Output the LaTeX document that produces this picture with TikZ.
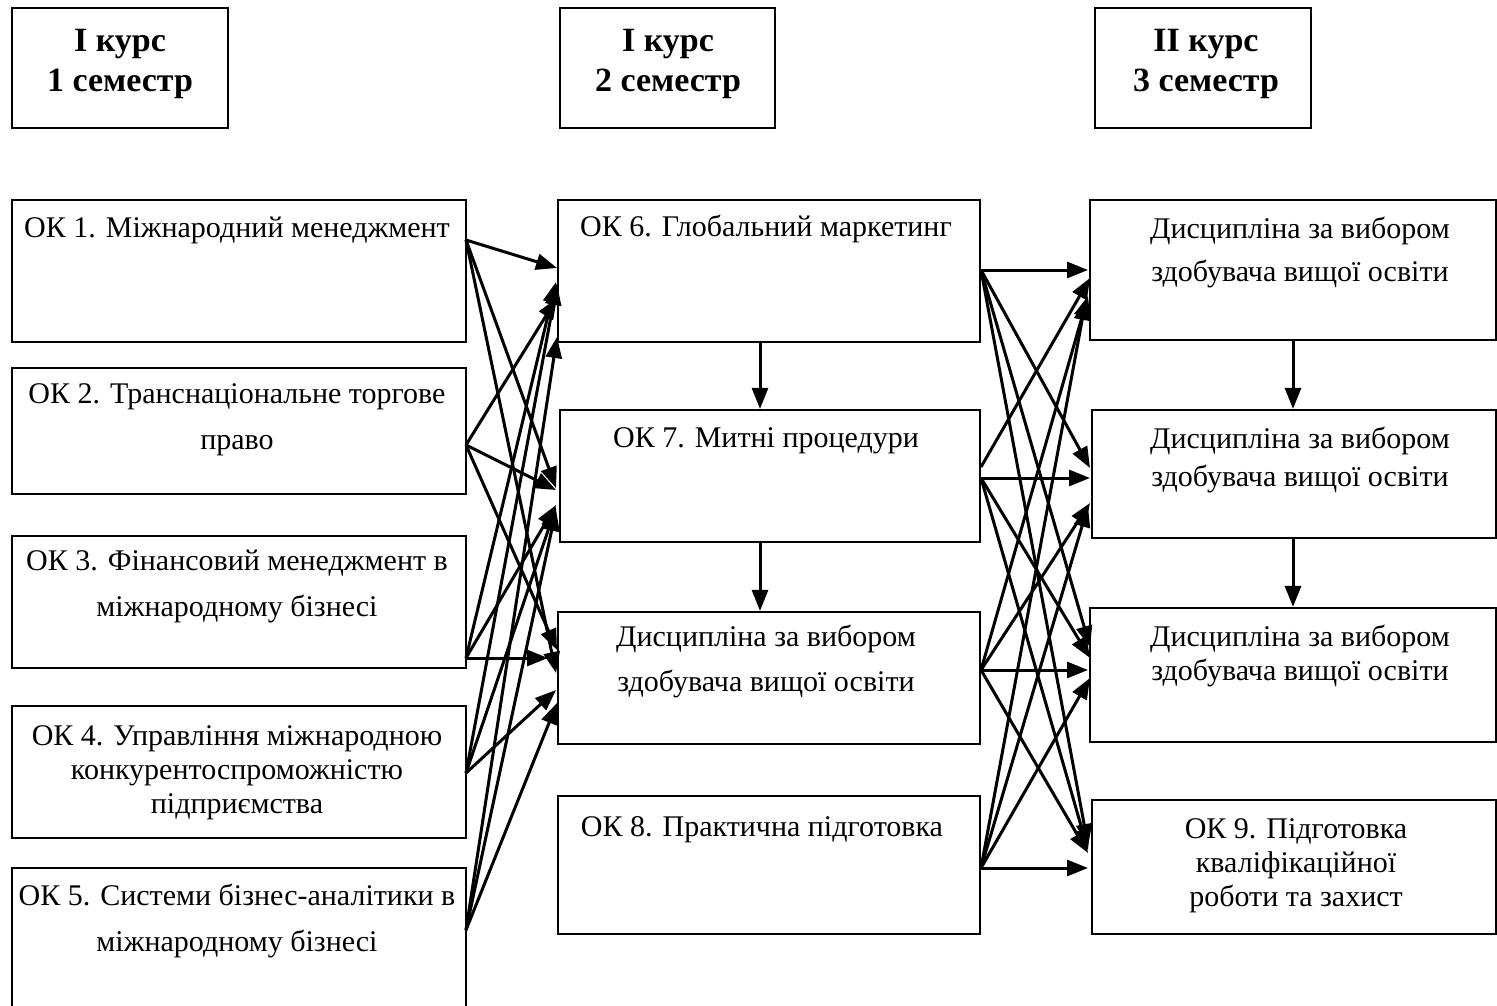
\documentclass[tikz,border=0pt]{standalone}
\usepackage{fontspec}
\setmainfont{Liberation Serif}
\usetikzlibrary{arrows.meta,fit}
\begin{document}
\begin{tikzpicture}[x=1pt,y=-1pt,
 box/.style={draw, line width=2.2pt, inner sep=0pt},
 txt/.style={align=center, inner sep=0pt, anchor=north, font=\fontsize{30}{46}\selectfont},
 hdr/.style={align=center, inner sep=0pt, anchor=north, font=\fontsize{34}{40}\selectfont\bfseries},
 arr/.style={line width=3pt, -{Triangle[length=21pt,width=16pt]}}]
\useasboundingbox (0,0) rectangle (1497,1006);
% header boxes
\node[box, fit={(12,8) (228,128)}] (H1) {};
\node[box, fit={(560,8) (775,128)}] (H2) {};
\node[box, fit={(1095,8) (1311,128)}] (H3) {};
\node[hdr] (H1t) at (120,29) {I курс\\1 семестр};
\node[hdr] (H2t) at (668,29) {I курс\\2 семестр};
\node[hdr] (H3t) at (1206,29) {II курс\\3 семестр};
% left column
\node[box, fit={(12,200) (466,342)}] (L1) {};
\node[box, fit={(12,368) (466,494)}] (L2) {};
\node[box, fit={(12,536) (466,668)}] (L3) {};
\node[box, fit={(12,706) (466,838)}] (L4) {};
\node[box, fit={(12,868) (466,1020)}] (L5) {};
\node[txt] (L1t) at (237,217) {ОК 1. Міжнародний менеджмент};
\node[txt] (L2t) at (237,383) {ОК 2. Транснаціональне торгове\\право};
\node[txt] (L3t) at (237,550) {ОК 3. Фінансовий менеджмент в\\міжнародному бізнесі};
\node[txt, font=\fontsize{30}{34}\selectfont] (L4t) at (237,725) {ОК 4. Управління міжнародною\\конкурентоспроможністю\\підприємства};
\node[txt] (L5t) at (237,884) {ОК 5. Системи бізнес-аналітики в\\міжнародному бізнесі};
% middle column
\node[box, fit={(558,200) (980,342)}] (M1) {};
\node[box, fit={(560,410) (980,542)}] (M2) {};
\node[box, fit={(558,612) (980,744)}] (M3) {};
\node[box, fit={(558,796) (980,934)}] (M4) {};
\node[txt] (M1t) at (766,215) {ОК 6. Глобальний маркетинг};
\node[txt] (M2t) at (766,427) {ОК 7. Митні процедури};
\node[txt, font=\fontsize{30}{45}\selectfont] (M3t) at (766,625) {Дисципліна за вибором\\здобувача вищої освіти};
\node[txt] (M4t) at (762,816) {ОК 8. Практична підготовка};
% right column
\node[box, fit={(1090,200) (1496,340)}] (R1) {};
\node[box, fit={(1092,410) (1496,538)}] (R2) {};
\node[box, fit={(1090,608) (1496,742)}] (R3) {};
\node[box, fit={(1092,800) (1496,934)}] (R4) {};
\node[txt, font=\fontsize{30}{43}\selectfont] (R1t) at (1300,217) {Дисципліна за вибором\\здобувача вищої освіти};
\node[txt, font=\fontsize{30}{38}\selectfont] (R2t) at (1300,427) {Дисципліна за вибором\\здобувача вищої освіти};
\node[txt, font=\fontsize{30}{34}\selectfont] (R3t) at (1300,625) {Дисципліна за вибором\\здобувача вищої освіти};
\node[txt, font=\fontsize{30}{34}\selectfont] (R4t) at (1296,818) {ОК 9. Підготовка\\кваліфікаційної\\роботи та захист};
% connector end points
\coordinate (L1o) at (466,240);
\coordinate (L2o) at (466,445);
\coordinate (L3o) at (466,658);
\coordinate (L4o) at (466,773);
\coordinate (L5o) at (466,930);
\coordinate (M1a) at (557,268); \coordinate (M1b) at (557,298); \coordinate (M1c) at (556,282);
\coordinate (M1d) at (557,284); \coordinate (M1e) at (557,337);
\coordinate (M2a) at (556,488); \coordinate (M2b) at (556,490); \coordinate (M2c) at (556,505);
\coordinate (M2d) at (556,507); \coordinate (M2e) at (556,510);
\coordinate (M3a) at (556,673); \coordinate (M3b) at (557,650); \coordinate (M3c) at (548,658);
\coordinate (M3d) at (556,690); \coordinate (M3e) at (557,703);
% left connectors
\draw[arr] (L1o) -- (M1a);
\draw[arr] (L2o) -- (M1b);
\draw[arr] (L3o) -- (M1c);
\draw[arr] (L4o) -- (M1d);
\draw[arr] (L5o) -- (M1e);
\draw[arr] (L1o) -- (M2a);
\draw[arr] (L2o) -- (M2b);
\draw[arr] (L3o) -- (M2c);
\draw[arr] (L4o) -- (M2d);
\draw[arr] (L5o) -- (M2e);
\draw[arr] (L1o) -- (M3a);
\draw[arr] (L2o) -- (M3b);
\draw[arr] (L3o) -- (M3c);
\draw[arr] (L4o) -- (M3d);
\draw[arr] (L5o) -- (M3e);
% right sources
\coordinate (M1o) at (981,270);
\coordinate (M2u) at (981,467);
\coordinate (M2o) at (981,478);
\coordinate (M3o) at (981,670);
\coordinate (M4o) at (981,868);
\coordinate (R1a) at (1088,270); \coordinate (R1b) at (1090,278); \coordinate (R1c) at (1088,296); \coordinate (R1d) at (1086,299);
\coordinate (R2a) at (1090,468); \coordinate (R2b) at (1090,478); \coordinate (R2c) at (1090,503); \coordinate (R2d) at (1088,506);
\coordinate (R3a) at (1090,647); \coordinate (R3b) at (1090,658); \coordinate (R3c) at (1088,670); \coordinate (R3d) at (1090,678);
\coordinate (R4a) at (1088,845); \coordinate (R4b) at (1088,850); \coordinate (R4c) at (1088,853); \coordinate (R4d) at (1088,868);
\draw[arr] (M1o) -- (R1a);
\draw[arr] (M1o) -- (R2a);
\draw[arr] (M1o) -- (R3a);
\draw[arr] (M1o) -- (R4a);
\draw[arr] (M2u) -- (R1b);
\draw[arr] (M2o) -- (R2b);
\draw[arr] (M2o) -- (R3b);
\draw[arr] (M2o) -- (R4b);
\draw[arr] (M3o) -- (R1c);
\draw[arr] (M3o) -- (R2c);
\draw[arr] (M3o) -- (R3c);
\draw[arr] (M3o) -- (R4c);
\draw[arr] (M4o) -- (R1d);
\draw[arr] (M4o) -- (R2d);
\draw[arr] (M4o) -- (R3d);
\draw[arr] (M4o) -- (R4d);
% vertical connectors
\draw[arr] (M1.south -| 760,0) -- (M2.north -| 760,0);
\draw[arr] (M2.south -| 760,0) -- (M3.north -| 760,0);
\draw[arr] (R1.south -| 1293,0) -- (R2.north -| 1293,0);
\draw[arr] (R2.south -| 1293,0) -- (R3.north -| 1293,0);
\end{tikzpicture}
\end{document}
